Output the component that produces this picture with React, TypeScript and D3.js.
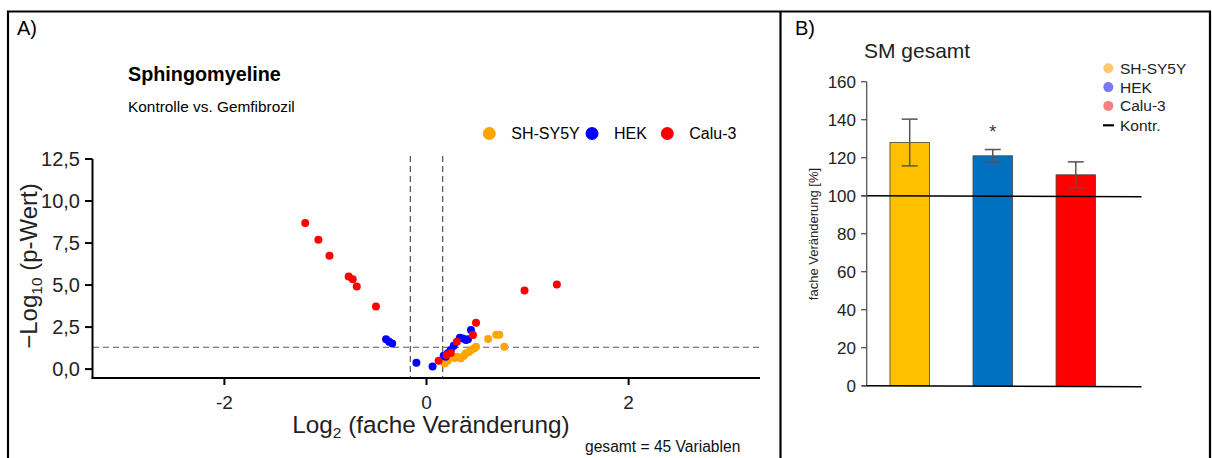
import React from "react";
import * as d3 from "d3";

// ---- Panel A: volcano plot data (log2 fold change, -log10 p) ----
const shsy5yPoints: [number, number][] = [
  [0.18, 0.34], [0.21, 0.5], [0.28, 0.66], [0.3, 0.73], [0.34, 0.64],
  [0.37, 0.8], [0.39, 0.94], [0.42, 1.02], [0.44, 1.13], [0.47, 1.22],
  [0.49, 1.33], [0.61, 1.79], [0.69, 2.05], [0.72, 2.05], [0.77, 1.33],
];
const hekPoints: [number, number][] = [
  [-0.4, 1.77], [-0.37, 1.63], [-0.34, 1.53],
  [-0.1, 0.38], [0.06, 0.16], [0.17, 0.8], [0.19, 0.73], [0.21, 0.95],
  [0.24, 1.13], [0.27, 1.39], [0.33, 1.87], [0.36, 1.82], [0.39, 1.73],
  [0.41, 1.78], [0.44, 2.33],
];
const caluPoints: [number, number][] = [
  [-1.2, 8.69], [-1.07, 7.7], [-0.96, 6.74], [-0.77, 5.51], [-0.73, 5.35],
  [-0.69, 4.91], [-0.5, 3.72],
  [0.12, 0.5], [0.2, 0.84], [0.24, 0.96], [0.3, 1.63], [0.46, 2.03], [0.49, 2.76],
  [0.97, 4.67], [1.29, 5.03],
];
const volcanoSeries = [
  { name: "SH-SY5Y", color: "#FFA500", points: shsy5yPoints },
  { name: "HEK", color: "#0000FF", points: hekPoints },
  { name: "Calu-3", color: "#FF0000", points: caluPoints },
];
const xTicksA = [-2, 0, 2];
const yTicksA = [0, 2.5, 5, 7.5, 10, 12.5];
const pThreshold = 1.3; // -log10(0.05)
const fcThreshold = 0.16;

// ---- Panel B: bar chart data ----
const cellLines = ["SH-SY5Y", "HEK", "Calu-3"];
const barMeans = [128, 121, 111];
const barErrors = [12.3, 3.3, 6.8];
const barColors = ["#FFC000", "#0070C0", "#FF0000"];
const legendDotColors = ["#FDC870", "#7878F2", "#F58080"];
const yTicksB = [0, 20, 40, 60, 80, 100, 120, 140, 160];
const controlLevel = 100;

const fmtComma = (v: number) => v.toFixed(1).replace(".", ",");

export default function App() {
  const font = "Liberation Sans, Arial, sans-serif";

  // Panel A scales
  const xA = d3.scaleLinear().domain([-3.3, 3.3]).range([93, 760]);
  const yA = d3.scaleLinear().domain([-0.5, 12.5]).range([377.5, 159]);

  // Panel B scales
  const xB = d3.scalePoint<string>().domain(cellLines).range([909.7, 1075.8]);
  const yB = d3.scaleLinear().domain([0, 160]).range([385.7, 81.7]);
  const barW = 39.5;

  return (
    <svg
      width={1212}
      height={458}
      style={{ position: "absolute", left: 0, top: 0, background: "#fff" }}
      fontFamily={font}
    >
      {/* frame */}
      <rect x={0} y={0} width={1212} height={458} fill="#fff" />
      <path d="M8,470 V11.5 H1210 V470" fill="none" stroke="#000" strokeWidth={2.2} />
      <line x1={780.5} y1={11.5} x2={780.5} y2={470} stroke="#000" strokeWidth={2.2} />

      {/* ===== Panel A ===== */}
      <text x={17} y={35} fontSize={20}>A)</text>
      <text x={128} y={81} fontSize={19.8} fontWeight="bold">Sphingomyeline</text>
      <text x={128} y={112} fontSize={15.4}>Kontrolle vs. Gemfibrozil</text>

      {/* legend */}
      {volcanoSeries.map((s, i) => {
        const lx = [489.3, 592, 667.3][i];
        return (
          <g key={s.name}>
            <circle cx={lx} cy={133.5} r={6.5} fill={s.color} />
            <text x={lx + 22} y={139} fontSize={16}>{s.name}</text>
          </g>
        );
      })}

      {/* threshold lines */}
      <line x1={xA(-3.3)} x2={xA(3.3)} y1={yA(pThreshold)} y2={yA(pThreshold)}
        stroke="#555" strokeWidth={1.2} strokeDasharray="6,4" />
      {[-fcThreshold, fcThreshold].map((v) => (
        <line key={v} x1={xA(v)} x2={xA(v)} y1={156} y2={yA(-0.5)}
          stroke="#555" strokeWidth={1.2} strokeDasharray="6,4" />
      ))}

      {/* points */}
      {volcanoSeries.map((s) => (
        <g key={s.name}>
          {s.points.map(([fx, fy], j) => (
            <circle key={j} cx={xA(fx)} cy={yA(fy)} r={4} fill={s.color} />
          ))}
        </g>
      ))}

      {/* axes */}
      <line x1={92.5} x2={92.5} y1={159} y2={378.5} stroke="#000" strokeWidth={2} />
      <line x1={91.5} x2={760} y1={378} y2={378} stroke="#000" strokeWidth={2} />
      {yTicksA.map((t) => (
        <g key={t}>
          <line x1={85} x2={92.5} y1={yA(t)} y2={yA(t)} stroke="#000" strokeWidth={2} />
          <text x={80} y={yA(t)} dy="0.36em" textAnchor="end" fontSize={20} fill="#222">
            {fmtComma(t)}
          </text>
        </g>
      ))}
      {xTicksA.map((t) => (
        <g key={t}>
          <line x1={xA(t)} x2={xA(t)} y1={378} y2={385} stroke="#000" strokeWidth={2} />
          <text x={xA(t)} y={409} textAnchor="middle" fontSize={19} fill="#222">{t}</text>
        </g>
      ))}

      <text transform="translate(37,266) rotate(-90)" textAnchor="middle" fontSize={24} fill="#222">
        −Log<tspan fontSize={15.5} dy={5}>10</tspan><tspan dy={-5}> (p-Wert)</tspan>
      </text>
      <text x={431} y={433} textAnchor="middle" fontSize={24.3} fill="#222">
        Log<tspan fontSize={15.5} dy={5}>2</tspan><tspan dy={-5}> (fache Veränderung)</tspan>
      </text>
      <text x={585} y={452} fontSize={15.6} fill="#111">gesamt = 45 Variablen</text>

      {/* ===== Panel B ===== */}
      <text x={795} y={35} fontSize={20}>B)</text>
      <text x={864} y={58} fontSize={21} fill="#222">SM gesamt</text>

      {/* bars */}
      {cellLines.map((c, i) => (
        <rect key={c} x={xB(c)! - barW / 2} y={yB(barMeans[i])} width={barW}
          height={yB(0) - yB(barMeans[i])} fill={barColors[i]} stroke="#444" strokeWidth={0.8} />
      ))}
      {/* error bars */}
      {cellLines.map((c, i) => {
        const cx = xB(c)!;
        const hi = yB(barMeans[i] + barErrors[i]);
        const lo = yB(barMeans[i] - barErrors[i]);
        return (
          <g key={c} stroke="#555" strokeWidth={1.5}>
            <line x1={cx} x2={cx} y1={hi} y2={lo} />
            <line x1={cx - 8} x2={cx + 8} y1={hi} y2={hi} />
            <line x1={cx - 8} x2={cx + 8} y1={lo} y2={lo} />
          </g>
        );
      })}
      <text x={xB("HEK")!} y={138} textAnchor="middle" fontSize={18} fill="#333">*</text>

      {/* control line */}
      <line x1={861.5} x2={1141.5} y1={yB(controlLevel)} y2={yB(controlLevel) + 1}
        stroke="#000" strokeWidth={1.5} />

      {/* axes B */}
      <line x1={866.7} x2={866.7} y1={yB(160)} y2={yB(0)} stroke="#555" strokeWidth={1.3} />
      <line x1={862} x2={1141.5} y1={yB(0)} y2={yB(0) + 1} stroke="#000" strokeWidth={1.5} />
      {yTicksB.map((t) => (
        <g key={t}>
          <line x1={861} x2={866.7} y1={yB(t)} y2={yB(t)} stroke="#555" strokeWidth={1.3} />
          <text x={856} y={yB(t)} dy="0.36em" textAnchor="end" fontSize={17} fill="#222">{t}</text>
        </g>
      ))}
      <text transform="translate(818,234) rotate(-90)" textAnchor="middle" fontSize={13} fill="#222">
        fache Veränderung [%]
      </text>

      {/* legend B */}
      {cellLines.map((c, i) => (
        <g key={c}>
          <circle cx={1108.3} cy={68.3 + i * 18.8} r={5} fill={legendDotColors[i]} />
          <text x={1120} y={68.3 + i * 18.8} dy="0.36em" fontSize={15.5} fill="#222">{c}</text>
        </g>
      ))}
      <line x1={1103} x2={1114} y1={125.3} y2={125.3} stroke="#000" strokeWidth={2.2} />
      <text x={1120} y={125.3} dy="0.36em" fontSize={15.5} fill="#222">Kontr.</text>
    </svg>
  );
}
